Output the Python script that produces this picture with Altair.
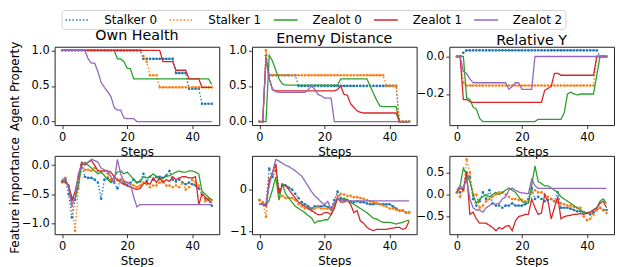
import altair as alt
import pandas as pd

steps = list(range(47))
series = ["Stalker 0", "Stalker 1", "Zealot 0", "Zealot 1", "Zealot 2"]
palette = ["#1f77b4", "#ff7f0e", "#2ca02c", "#d62728", "#9467bd"]
dashes = [[1.5, 2], [1.5, 2], [1, 0], [1, 0], [1, 0]]

# ---------------- Agent property: Own Health ----------------
own_health = {
    "Stalker 0": [1.0, 1.0, 1.0, 1.0, 1.0, 1.0, 1.0, 1.0, 1.0, 1.0,
                  1.0, 1.0, 1.0, 1.0, 1.0, 1.0, 1.0, 1.0, 1.0, 1.0,
                  1.0, 1.0, 1.0, 1.0, 1.0, 0.88, 0.88, 0.88, 0.88, 0.88,
                  0.88, 0.88, 0.88, 0.88, 0.88, 0.68, 0.68, 0.68, 0.68, 0.46,
                  0.46, 0.46, 0.46, 0.25, 0.25, 0.25, 0.25],
    "Stalker 1": [1.0, 1.0, 1.0, 1.0, 1.0, 1.0, 1.0, 1.0, 1.0, 1.0,
                  1.0, 1.0, 1.0, 1.0, 1.0, 1.0, 1.0, 1.0, 1.0, 1.0,
                  1.0, 1.0, 1.0, 1.0, 1.0, 0.92, 0.84, 0.65, 0.65, 0.65,
                  0.48, 0.48, 0.48, 0.48, 0.48, 0.48, 0.48, 0.48, 0.48, 0.48,
                  0.48, 0.48, 0.48, 0.48, 0.48, 0.48, 0.48],
    "Zealot 0": [1.0, 1.0, 1.0, 1.0, 1.0, 1.0, 1.0, 1.0, 1.0, 1.0,
                 1.0, 1.0, 1.0, 1.0, 1.0, 1.0, 1.0, 0.88, 0.88, 0.84,
                 0.75, 0.74, 0.6, 0.6, 0.6, 0.6, 0.6, 0.6, 0.6, 0.6,
                 0.6, 0.6, 0.6, 0.6, 0.6, 0.6, 0.6, 0.6, 0.6, 0.6,
                 0.6, 0.6, 0.6, 0.6, 0.6, 0.6, 0.52],
    "Zealot 1": [1.0, 1.0, 1.0, 1.0, 1.0, 1.0, 1.0, 1.0, 1.0, 1.0,
                 1.0, 1.0, 1.0, 1.0, 1.0, 1.0, 1.0, 1.0, 1.0, 1.0,
                 1.0, 1.0, 1.0, 1.0, 1.0, 1.0, 1.0, 1.0, 1.0, 1.0,
                 1.0, 0.84, 0.84, 0.84, 0.84, 0.72, 0.72, 0.72, 0.72, 0.6,
                 0.6, 0.6, 0.6, 0.48, 0.48, 0.48, 0.48],
    "Zealot 2": [1.0, 1.0, 1.0, 1.0, 1.0, 1.0, 1.0, 1.0, 0.88, 0.82,
                 0.82, 0.7, 0.55, 0.48, 0.42, 0.35, 0.2, 0.16, 0.16, 0.05,
                 0.04, 0.04, 0.04, 0.0, 0.0, 0.0, 0.0, 0.0, 0.0, 0.0,
                 0.0, 0.0, 0.0, 0.0, 0.0, 0.0, 0.0, 0.0, 0.0, 0.0,
                 0.0, 0.0, 0.0, 0.0, 0.0, 0.0, 0.0],
}

# ---------------- Agent property: Enemy Distance ----------------
enemy_distance = {
    "Stalker 0": [0.0, 0.0, 0.93, 0.65, 0.65, 0.65, 0.65, 0.65, 0.65, 0.65,
                  0.65, 0.65, 0.5, 0.5, 0.5, 0.5, 0.5, 0.5, 0.5, 0.5,
                  0.5, 0.5, 0.5, 0.5, 0.5, 0.5, 0.5, 0.5, 0.5, 0.5,
                  0.5, 0.5, 0.5, 0.5, 0.5, 0.5, 0.5, 0.5, 0.5, 0.5,
                  0.5, 0.5, 0.5, 0.0, 0.0, 0.0, 0.0],
    "Stalker 1": [0.0, 0.0, 1.0, 0.65, 0.65, 0.65, 0.65, 0.65, 0.65, 0.65,
                  0.65, 0.65, 0.65, 0.65, 0.65, 0.65, 0.65, 0.65, 0.65, 0.65,
                  0.65, 0.65, 0.65, 0.65, 0.65, 0.65, 0.65, 0.65, 0.65, 0.65,
                  0.65, 0.65, 0.65, 0.65, 0.65, 0.65, 0.65, 0.65, 0.65, 0.5,
                  0.5, 0.5, 0.5, 0.0, 0.0, 0.0, 0.0],
    "Zealot 0": [0.0, 0.0, 0.0, 0.93, 0.85, 0.72, 0.6, 0.53, 0.51, 0.51,
                 0.51, 0.51, 0.51, 0.51, 0.51, 0.51, 0.51, 0.51, 0.51, 0.51,
                 0.51, 0.51, 0.51, 0.51, 0.51, 0.6, 0.6, 0.6, 0.6, 0.6,
                 0.6, 0.6, 0.6, 0.6, 0.5, 0.4, 0.3, 0.22, 0.21, 0.21,
                 0.21, 0.21, 0.21, 0.0, 0.0, 0.0, 0.0],
    "Zealot 1": [0.0, 0.0, 0.9, 0.6, 0.45, 0.43, 0.43, 0.43, 0.43, 0.43,
                 0.43, 0.43, 0.43, 0.43, 0.43, 0.43, 0.43, 0.43, 0.43, 0.43,
                 0.43, 0.43, 0.43, 0.43, 0.45, 0.5, 0.38, 0.37, 0.25, 0.2,
                 0.15, 0.13, 0.12, 0.12, 0.12, 0.12, 0.12, 0.12, 0.12, 0.12,
                 0.12, 0.12, 0.12, 0.0, 0.0, 0.0, 0.0],
    "Zealot 2": [0.0, 0.0, 0.88, 0.6, 0.45, 0.42, 0.41, 0.41, 0.41, 0.41,
                 0.41, 0.41, 0.41, 0.41, 0.41, 0.45, 0.5, 0.45, 0.38, 0.36,
                 0.33, 0.33, 0.33, 0.0, 0.0, 0.0, 0.0, 0.0, 0.0, 0.0,
                 0.0, 0.0, 0.0, 0.0, 0.0, 0.0, 0.0, 0.0, 0.0, 0.0,
                 0.0, 0.0, 0.0, 0.0, 0.0, 0.0, 0.0],
}

# ---------------- Agent property: Relative Y ----------------
relative_y = {
    "Stalker 0": [0.0, 0.0, 0.02, 0.033, 0.033, 0.033, 0.033, 0.033, 0.033, 0.033,
                  0.033, 0.033, 0.033, 0.033, 0.033, 0.033, 0.033, 0.033, 0.033, 0.033,
                  0.033, 0.033, 0.033, 0.033, 0.033, 0.033, 0.033, 0.033, 0.033, 0.033,
                  0.033, 0.033, 0.033, 0.033, 0.033, 0.033, 0.033, 0.033, 0.033, 0.033,
                  0.033, 0.033, 0.033, 0.033, 0.0, 0.0, 0.0],
    "Stalker 1": [0.0, 0.0, -0.14, -0.155, -0.155, -0.155, -0.155, -0.155, -0.155, -0.155,
                  -0.155, -0.155, -0.155, -0.155, -0.155, -0.155, -0.155, -0.155, -0.155, -0.155,
                  -0.155, -0.155, -0.155, -0.155, -0.155, -0.155, -0.155, -0.155, -0.155, -0.155,
                  -0.155, -0.155, -0.155, -0.155, -0.155, -0.155, -0.155, -0.155, -0.155, -0.155,
                  -0.155, -0.155, -0.155, 0.0, 0.0, 0.0, 0.0],
    "Zealot 0": [0.0, 0.0, 0.0, -0.22, -0.23, -0.27, -0.28, -0.33, -0.347, -0.347,
                 -0.347, -0.347, -0.347, -0.347, -0.347, -0.347, -0.347, -0.347, -0.347, -0.347,
                 -0.347, -0.347, -0.347, -0.347, -0.347, -0.335, -0.335, -0.335, -0.335, -0.335,
                 -0.335, -0.335, -0.335, -0.3, -0.2, -0.19, -0.2, -0.205, -0.2, -0.2,
                 -0.2, -0.2, -0.2, -0.1, 0.0, 0.0, 0.0],
    "Zealot 1": [0.0, 0.0, -0.23, -0.23, -0.24, -0.245, -0.245, -0.245, -0.245, -0.245,
                 -0.245, -0.245, -0.245, -0.245, -0.245, -0.245, -0.245, -0.245, -0.245, -0.245,
                 -0.245, -0.245, -0.245, -0.245, -0.245, -0.245, -0.245, -0.18, -0.17, -0.16,
                 -0.09, -0.09, -0.1, -0.1, -0.1, -0.1, -0.1, -0.1, -0.1, -0.1,
                 -0.1, -0.1, -0.1, 0.0, 0.0, 0.0, 0.0],
    "Zealot 2": [0.0, 0.0, -0.08, -0.09, -0.12, -0.14, -0.14, -0.14, -0.14, -0.14,
                 -0.14, -0.14, -0.14, -0.14, -0.14, -0.14, -0.175, -0.16, -0.14, -0.14,
                 -0.175, -0.175, -0.175, -0.175, 0.0, 0.0, 0.0, 0.0, 0.0, 0.0,
                 0.0, 0.0, 0.0, 0.0, 0.0, 0.0, 0.0, 0.0, 0.0, 0.0,
                 0.0, 0.0, 0.0, 0.0, 0.0, 0.0, 0.0],
}

# ---------------- Feature importance: Own Health ----------------
fi_own_health = {
    "Stalker 0": [-0.28, -0.25, -0.5, -0.9, -0.6, -0.3, 0.0, -0.2, -0.22, -0.22,
                  -0.25, -0.3, -0.58, -0.25, -0.22, -0.28, -0.3, -0.4, -0.25, -0.3,
                  -0.35, -0.3, -0.25, -0.3, -0.28, -0.15, -0.28, -0.2, -0.25, -0.2,
                  -0.2, -0.22, -0.18, -0.1, -0.25, -0.28, -0.25, -0.3, -0.33, -0.3,
                  -0.33, -0.35, -0.4, -0.5, -0.58, -0.6, -0.7],
    "Stalker 1": [-0.3, -0.22, -0.35, -0.68, -1.13, -0.4, 0.0, -0.08, -0.08, -0.1,
                  -0.05, -0.1, -0.12, -0.1, -0.15, -0.25, -0.28, -0.25, -0.25, -0.28,
                  -0.3, -0.32, -0.35, -0.38, -0.35, -0.3, -0.33, -0.38, -0.35, -0.35,
                  -0.3, -0.28, -0.35, -0.35, -0.38, -0.35, -0.38, -0.3, -0.42, -0.38,
                  -0.25, -0.3, -0.35, -0.5, -0.62, -0.58, -0.6],
    "Zealot 0": [-0.28, -0.27, -0.35, -0.55, -0.6, -0.35, 0.0, 0.05, 0.0, -0.05,
                 -0.1, -0.15, -0.12, -0.18, -0.25, -0.3, -0.2, -0.12, -0.1, -0.15,
                 -0.12, -0.18, -0.25, -0.3, -0.28, -0.2, -0.22, -0.2, -0.15, -0.2,
                 -0.25, -0.22, -0.2, -0.18, -0.15, -0.12, -0.1, -0.12, -0.12, -0.1,
                 -0.1, -0.12, -0.15, -0.45, -0.5, -0.55, -0.6],
    "Zealot 1": [-0.28, -0.3, -0.35, -0.62, -0.45, -0.2, 0.05, 0.0, 0.05, 0.08,
                 0.0, -0.1, -0.1, -0.1, -0.1, -0.12, -0.2, -0.25, -0.3, -0.33,
                 -0.35, -0.38, -0.4, -0.42, -0.4, -0.32, -0.3, -0.33, -0.22, -0.3,
                 -0.22, -0.3, -0.25, -0.28, -0.2, -0.25, -0.22, -0.2, -0.2, -0.22,
                 -0.22, -0.2, -0.68, -0.5, -0.55, -0.6, -0.65],
    "Zealot 2": [-0.25, -0.22, -0.4, -0.7, -0.55, -0.15, 0.0, 0.02, 0.05, 0.1,
                 0.08, 0.05, -0.05, -0.08, -0.1, -0.2, -0.3, 0.1, -0.15, -0.28,
                 -0.3, -0.32, -0.55, -0.72, -0.68, -0.68, -0.68, -0.68, -0.68, -0.68,
                 -0.68, -0.68, -0.68, -0.68, -0.68, -0.68, -0.68, -0.68, -0.68, -0.68,
                 -0.68, -0.68, -0.68, -0.68, -0.68, -0.68, -0.68],
}

# ---------------- Feature importance: Enemy Distance ----------------
fi_enemy_distance = {
    "Stalker 0": [-0.25, -0.35, -0.35, 0.5, 0.3, 0.45, 0.0, 0.12, 0.1, 0.05,
                  0.0, -0.1, -0.2, -0.3, -0.35, -0.4, -0.45, -0.4, -0.4, -0.4,
                  -0.38, -0.42, -0.45, -0.25, -0.05, -0.2, -0.25, -0.25, -0.28, -0.3,
                  -0.28, -0.3, -0.3, -0.33, -0.35, -0.35, -0.33, -0.35, -0.35, -0.35,
                  -0.35, -0.4, -0.45, -0.5, -0.5, -0.55, -0.55],
    "Stalker 1": [-0.25, -0.3, -0.65, 0.25, 0.35, 0.55, -0.2, -0.15, -0.2, -0.2,
                  -0.2, -0.25, -0.35, -0.4, -0.45, -0.45, -0.5, -0.45, -0.42, -0.45,
                  -0.45, -0.45, -0.48, -0.35, -0.15, -0.1, -0.12, -0.15, -0.15, -0.18,
                  -0.18, -0.2, -0.22, -0.25, -0.28, -0.3, -0.32, -0.35, -0.38, -0.4,
                  -0.45, -0.45, -0.48, -0.5, -0.5, -0.55, -0.55],
    "Zealot 0": [-0.35, -0.35, -0.38, -0.25, 0.0, 0.3, -0.25, 0.15, -0.1, -0.2,
                 -0.3, -0.4, -0.45, -0.5, -0.55, -0.62, -0.68, -0.8, -0.75, -0.75,
                 -0.72, -0.72, -0.6, -0.4, -0.2, -0.25, -0.2, -0.25, -0.3, -0.35,
                 -0.4, -0.45, -0.5, -0.55, -0.62, -0.68, -0.7, -0.75, -0.78, -0.78,
                 -0.78, -0.8, -0.82, -0.8, -0.78, -0.75, -0.73],
    "Zealot 1": [-0.35, -0.35, -0.4, 0.2, 0.4, 0.62, -0.1, 0.1, 0.1, 0.0,
                 -0.1, -0.2, -0.3, -0.35, -0.4, -0.45, -0.5, -0.55, -0.6, -0.6,
                 -0.55, -0.55, -0.6, -0.45, -0.2, -0.3, -0.3, -0.25, -0.35, -0.55,
                 -0.5, -0.75, -0.8, -0.9, -0.95, -0.98, -0.95, -0.95, -0.95, -0.95,
                 -0.93, -0.92, -0.9, -0.9, -0.95, -0.92, -0.75],
    "Zealot 2": [-0.35, -0.35, -0.35, 0.1, 0.4, 0.72, 0.68, 0.63, 0.58, 0.55,
                 0.5, 0.45, 0.38, 0.32, 0.2, 0.08, -0.05, -0.15, -0.22, -0.3,
                 -0.36, -0.28, -0.48, -0.3, -0.2, -0.25, -0.27, -0.27, -0.27, -0.27,
                 -0.27, -0.27, -0.27, -0.27, -0.27, -0.27, -0.27, -0.27, -0.27, -0.27,
                 -0.27, -0.27, -0.27, -0.27, -0.27, -0.27, -0.27],
}

# ---------------- Feature importance: Relative Y ----------------
fi_relative_y = {
    "Stalker 0": [0.05, 0.05, 0.15, 0.5, 0.4, -0.1, -0.25, -0.15, 0.05, -0.1,
                  0.1, -0.2, -0.25, -0.25, -0.3, -0.25, -0.25, -0.2, -0.25, -0.25,
                  -0.25, -0.22, -0.1, 0.15, -0.1, -0.05, -0.1, -0.15, -0.12, -0.1,
                  -0.15, 0.05, -0.3, -0.3, -0.3, -0.32, -0.35, -0.38, -0.38, -0.4,
                  -0.42, -0.45, -0.4, -0.35, -0.3, -0.35, -0.35],
    "Stalker 1": [0.05, -0.05, 0.1, 0.8, 0.5, 0.0, 0.0, -0.3, -0.25, -0.15,
                  -0.1, -0.05, 0.0, 0.05, 0.05, 0.0, -0.05, -0.1, -0.1, -0.12,
                  -0.12, -0.15, -0.15, 0.05, 0.1, 0.05, 0.05, 0.0, -0.05, -0.1,
                  -0.15, -0.18, -0.2, -0.22, -0.25, -0.25, -0.28, -0.3, -0.3, -0.5,
                  -0.58, -0.55, -0.45, -0.35, -0.3, -0.35, -0.42],
    "Zealot 0": [0.05, 0.2, 0.6, 0.45, 0.3, 0.0, -0.2, -0.1, -0.05, 0.0,
                 -0.05, 0.0, 0.05, 0.0, 0.05, 0.1, 0.15, 0.1, 0.05, -0.05,
                 -0.15, -0.2, -0.2, 0.2, 0.65, 0.3, 0.25, 0.2, 0.2, 0.15,
                 0.1, 0.05, -0.05, -0.1, -0.15, -0.2, -0.25, -0.3, -0.35, -0.4,
                 -0.42, -0.4, -0.35, -0.3, -0.15, -0.1, -0.2],
    "Zealot 1": [0.05, 0.15, 0.1, 0.5, -0.45, -0.4, -0.55, -0.65, -0.65, -0.65,
                 -0.7, -0.75, -0.82, -0.75, -0.78, -0.72, -0.7, -0.82, -0.6, -0.5,
                 -0.48, -0.45, -0.45, -0.1, -0.3, -0.45, -0.42, 0.0, -0.15, -0.55,
                 -0.3, -0.05, -0.55, -0.5, -0.48, -0.47, -0.45, -0.45, -0.43, -0.45,
                 -0.42, -0.4, -0.35, -0.3, -0.2, -0.15, -0.3],
    "Zealot 2": [0.1, 0.2, 0.15, 0.35, -0.1, -0.3, -0.35, -0.35, -0.4, -0.3,
                 -0.25, -0.2, -0.22, -0.2, -0.1, -0.05, 0.1, 0.15, 0.1, 0.06,
                 0.04, 0.03, 0.02, 0.35, 0.2, 0.14, 0.14, 0.14, 0.14, 0.14,
                 0.14, 0.14, 0.14, 0.14, 0.14, 0.14, 0.14, 0.14, 0.14, 0.14,
                 0.14, 0.14, 0.14, 0.14, 0.14, 0.14, 0.14],
}

x_ticks = [0, 20, 40]
x_domain = [-2.3, 48.3]

PW, PH = 166, 79

color_scale = alt.Scale(domain=series, range=palette)
dash_scale = alt.Scale(domain=series, range=dashes)


def make_df(d):
    rows = []
    for s in series:
        for st, v in zip(steps, d[s]):
            rows.append({"step": st, "value": v, "series": s})
    return pd.DataFrame(rows)


def panel(data, ydom, yvals, yfmt, title=None, ytitle=None):
    df = make_df(data)
    x = alt.X("step:Q",
              scale=alt.Scale(domain=x_domain, nice=False, zero=False),
              axis=alt.Axis(values=x_ticks, format="d", title="Steps"))
    if ytitle:
        yaxis = alt.Axis(values=yvals, format=yfmt, title=ytitle,
                         titleX=-33, titleY=PH / 2)
    else:
        yaxis = alt.Axis(values=yvals, format=yfmt, title=None)
    y = alt.Y("value:Q", scale=alt.Scale(domain=ydom, nice=False, zero=False),
              axis=yaxis)
    pts = (alt.Chart(df)
           .transform_filter(alt.FieldOneOfPredicate(field="series", oneOf=series[:2]))
           .mark_point(filled=True, size=7, opacity=1, clip=True)
           .encode(x=x, y=y,
                   color=alt.Color("series:N", scale=color_scale,
                                   legend=alt.Legend(title=None))))
    lines = (alt.Chart(df)
             .mark_line(strokeWidth=1.3, clip=True)
             .encode(x=x, y=y,
                     color=alt.Color("series:N", scale=color_scale,
                                     legend=alt.Legend(title=None)),
                     strokeDash=alt.StrokeDash("series:N", scale=dash_scale,
                                               legend=alt.Legend(title=None))))
    ch = alt.layer(pts, lines)
    if title:
        return ch.properties(width=PW, height=PH, title=title)
    return ch.properties(width=PW, height=PH)


p1 = panel(own_health, [-0.05, 1.05], [0.0, 0.5, 1.0], ".1f", "Own Health", "Agent Property")
p2 = panel(enemy_distance, [-0.05, 1.05], [0.0, 0.5, 1.0], ".1f", "Enemy Distance")
p3 = panel(relative_y, [-0.366, 0.052], [-0.2, 0.0], ".1f", "Relative Y")
p4 = panel(fi_own_health, [-1.19, 0.16], [-1.0, -0.5, 0.0], ".1f", None, "Feature importance")
p5 = panel(fi_enemy_distance, [-1.065, 0.805], [-1, 0], "d")
p6 = panel(fi_relative_y, [-0.90, 0.88], [-0.5, 0.0, 0.5], ".1f")

chart = (
    alt.concat(p1, p2, p3, p4, p5, p6, columns=3,
               spacing={"row": 31, "column": 33}, bounds="flush")
    .resolve_scale(color="shared", strokeDash="shared")
    .properties(padding=0)
    .configure(font="DejaVu Sans")
    .configure_view(stroke="#222", strokeWidth=1)
    .configure_axis(domain=False, grid=False, tickColor="#222", tickSize=3.5,
                    tickWidth=0.9, labelFont="DejaVu Sans", labelFontSize=11.5,
                    labelColor="#000", labelPadding=2,
                    titleFont="DejaVu Sans", titleFontSize=12,
                    titleFontWeight="normal", titleColor="#000")
    .configure_axisX(labelPadding=3, titlePadding=4)
    .configure_title(font="DejaVu Sans", fontSize=14.4, fontWeight="normal",
                     color="#000", offset=-2)
    .configure_legend(orient="none", legendX=7, legendY=-37,
                      direction="horizontal", columns=5,
                      symbolType="M-2,0H2", symbolSize=144, symbolStrokeWidth=1.5,
                      symbolOffset=6,
                      labelFont="DejaVu Sans", labelFontSize=12, labelColor="#000",
                      columnPadding=9, padding=3, strokeColor="#d0d0d0",
                      cornerRadius=3, fillColor="white", labelOffset=20)
)

chart.save("out.html", embed_options={"renderer": "svg", "actions": False})
